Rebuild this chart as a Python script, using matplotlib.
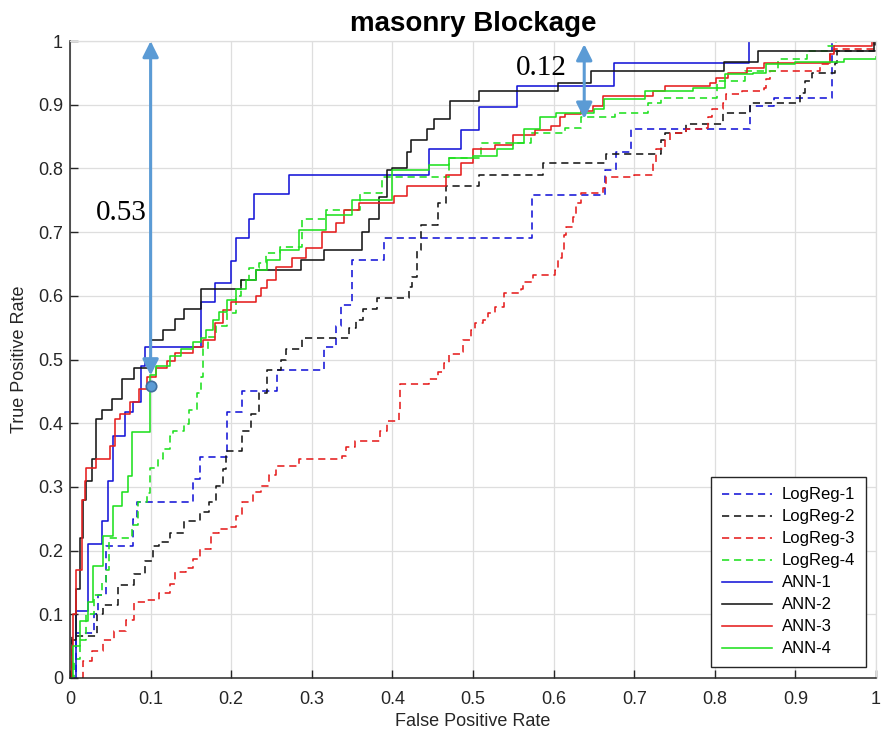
import matplotlib
matplotlib.use("Agg")
import matplotlib.pyplot as plt

plt.rcParams['font.family'] = ['Liberation Sans', 'DejaVu Sans']

# ROC curves (step vertices: at each fpr the curve rises to the given tpr)
logreg1_fpr = [0, 0.007, 0.030, 0.035, 0.045, 0.078, 0.083, 0.152, 0.161, 0.195, 0.214, 0.257, 0.315,
               0.330, 0.336, 0.350, 0.390, 0.573, 0.664, 0.678, 0.696, 0.844, 0.873, 0.946, 1.0]
logreg1_tpr = [0, 0.070, 0.100, 0.130, 0.208, 0.250, 0.277, 0.3125, 0.347, 0.417, 0.450, 0.484, 0.520,
               0.552, 0.586, 0.656, 0.690, 0.758, 0.797, 0.825, 0.862, 0.898, 0.910, 1.0, 1.0]

logreg2_fpr = [0, 0.003, 0.033, 0.041, 0.059, 0.080, 0.093, 0.103, 0.111, 0.124, 0.142, 0.161, 0.173,
               0.181, 0.190, 0.194, 0.213, 0.225, 0.235, 0.245, 0.262, 0.268, 0.288, 0.346, 0.355,
               0.363, 0.381, 0.420, 0.424, 0.430, 0.435, 0.457, 0.467, 0.507, 0.587, 0.665, 0.733,
               0.738, 0.764, 0.810, 0.844, 0.906, 0.912, 0.920, 0.949, 0.951, 0.999, 1.0]
logreg2_tpr = [0, 0.066, 0.100, 0.115, 0.146, 0.164, 0.183, 0.208, 0.214, 0.227, 0.247, 0.260, 0.277,
               0.302, 0.328, 0.356, 0.388, 0.414, 0.448, 0.484, 0.500, 0.516, 0.534, 0.550, 0.5625,
               0.580, 0.597, 0.614, 0.630, 0.672, 0.711, 0.745, 0.773, 0.789, 0.808, 0.823, 0.844,
               0.855, 0.870, 0.8875, 0.903, 0.919, 0.9375, 0.950, 0.966, 0.984, 1.0, 1.0]

logreg3_fpr = [0, 0.0165, 0.027, 0.041, 0.054, 0.070, 0.080, 0.095, 0.111, 0.124, 0.130, 0.144, 0.152,
               0.161, 0.175, 0.185, 0.198, 0.206, 0.214, 0.227, 0.237, 0.247, 0.256, 0.284, 0.338,
               0.342, 0.354, 0.385, 0.393, 0.408, 0.410, 0.445, 0.457, 0.464, 0.470, 0.484, 0.488,
               0.498, 0.502, 0.513, 0.519, 0.527, 0.538, 0.559, 0.562, 0.575, 0.602, 0.606, 0.610,
               0.613, 0.616, 0.624, 0.628, 0.634, 0.661, 0.665, 0.700, 0.723, 0.727, 0.738, 0.744,
               0.764, 0.787, 0.791, 0.797, 0.810, 0.814, 0.834, 0.861, 0.863, 0.869, 0.931, 0.943,
               0.948, 0.997, 1.0]
logreg3_tpr = [0, 0.027, 0.042, 0.060, 0.074, 0.091, 0.120, 0.122, 0.133, 0.148, 0.167, 0.172, 0.1875,
               0.203, 0.227, 0.234, 0.237, 0.255, 0.276, 0.292, 0.302, 0.318, 0.333, 0.344, 0.349,
               0.3625, 0.372, 0.388, 0.404, 0.417, 0.461, 0.469, 0.480, 0.495, 0.508, 0.511, 0.531,
               0.547, 0.558, 0.5625, 0.573, 0.583, 0.605, 0.610, 0.622, 0.633, 0.641, 0.659, 0.672,
               0.695, 0.708, 0.723, 0.745, 0.761, 0.769, 0.786, 0.789, 0.808, 0.831, 0.844, 0.855,
               0.862, 0.864, 0.880, 0.894, 0.903, 0.917, 0.922, 0.927, 0.940, 0.953, 0.964, 0.980,
               0.988, 1.0, 1.0]

logreg4_fpr = [0, 0.005, 0.012, 0.020, 0.030, 0.040, 0.045, 0.048, 0.077, 0.084, 0.095, 0.099, 0.109,
               0.115, 0.124, 0.128, 0.142, 0.148, 0.157, 0.163, 0.165, 0.171, 0.181, 0.195, 0.206,
               0.212, 0.222, 0.235, 0.243, 0.260, 0.288, 0.318, 0.360, 0.387, 0.470, 0.510, 0.572,
               0.614, 0.634, 0.676, 0.717, 0.733, 0.803, 0.837, 0.878, 0.915, 0.940, 0.950, 1.0]
logreg4_tpr = [0, 0.030, 0.060, 0.100, 0.130, 0.150, 0.170, 0.220, 0.240, 0.277, 0.290, 0.330, 0.344,
               0.360, 0.380, 0.388, 0.398, 0.420, 0.448, 0.473, 0.516, 0.536, 0.552, 0.573, 0.600,
               0.625, 0.644, 0.652, 0.667, 0.677, 0.720, 0.734, 0.761, 0.786, 0.817, 0.840, 0.855,
               0.864, 0.880, 0.8875, 0.903, 0.911, 0.9375, 0.953, 0.972, 0.984, 0.992, 1.0, 1.0]

ann1_fpr = [0, 0.008, 0.022, 0.040, 0.047, 0.053, 0.068, 0.078, 0.088, 0.093, 0.163, 0.180, 0.200,
            0.206, 0.222, 0.228, 0.272, 0.445, 0.485, 0.508, 0.554, 0.675, 0.843, 1.0]
ann1_tpr = [0, 0.105, 0.210, 0.247, 0.310, 0.380, 0.417, 0.433, 0.490, 0.520, 0.590, 0.620, 0.655,
            0.690, 0.720, 0.760, 0.790, 0.830, 0.860, 0.897, 0.930, 0.965, 1.0, 1.0]

ann2_fpr = [0, 0.003, 0.008, 0.012, 0.016, 0.020, 0.027, 0.032, 0.040, 0.052, 0.064, 0.080, 0.100,
            0.115, 0.130, 0.142, 0.163, 0.212, 0.231, 0.287, 0.315, 0.362, 0.371, 0.383, 0.393,
            0.400, 0.418, 0.423, 0.443, 0.451, 0.472, 0.507, 0.606, 0.647, 0.812, 0.853, 0.998, 1.0]
ann2_tpr = [0, 0.060, 0.140, 0.220, 0.280, 0.310, 0.344, 0.406, 0.420, 0.4375, 0.470, 0.486, 0.530,
            0.547, 0.564, 0.580, 0.610, 0.625, 0.640, 0.656, 0.672, 0.700, 0.720, 0.755, 0.797,
            0.800, 0.825, 0.844, 0.862, 0.877, 0.906, 0.922, 0.934, 0.953, 0.967, 0.984, 1.0, 1.0]

ann3_fpr = [0, 0.002, 0.004, 0.008, 0.015, 0.019, 0.020, 0.032, 0.050, 0.056, 0.062, 0.074, 0.086,
            0.095, 0.107, 0.120, 0.130, 0.152, 0.165, 0.180, 0.190, 0.200, 0.231, 0.237, 0.245,
            0.256, 0.276, 0.293, 0.313, 0.330, 0.340, 0.358, 0.402, 0.418, 0.466, 0.485, 0.500,
            0.527, 0.550, 0.577, 0.597, 0.608, 0.614, 0.634, 0.649, 0.661, 0.723, 0.738, 0.794,
            0.801, 0.816, 0.840, 0.861, 0.943, 0.948, 0.995, 1.0]
ann3_tpr = [0, 0.050, 0.100, 0.170, 0.280, 0.310, 0.330, 0.344, 0.364, 0.406, 0.414, 0.433, 0.453,
            0.473, 0.487, 0.497, 0.510, 0.520, 0.530, 0.558, 0.578, 0.590, 0.600, 0.612, 0.625,
            0.645, 0.660, 0.675, 0.700, 0.714, 0.734, 0.745, 0.757, 0.773, 0.789, 0.808, 0.830,
            0.836, 0.852, 0.860, 0.867, 0.880, 0.886, 0.890, 0.898, 0.914, 0.922, 0.930, 0.934,
            0.942, 0.950, 0.958, 0.966, 0.980, 0.992, 1.0, 1.0]

ann4_fpr = [0, 0.004, 0.012, 0.022, 0.028, 0.041, 0.053, 0.064, 0.072, 0.077, 0.099, 0.107, 0.124,
            0.138, 0.152, 0.163, 0.169, 0.177, 0.185, 0.195, 0.206, 0.218, 0.231, 0.245, 0.260,
            0.284, 0.318, 0.350, 0.400, 0.445, 0.470, 0.500, 0.530, 0.550, 0.563, 0.583, 0.603,
            0.650, 0.663, 0.713, 0.773, 0.813, 0.847, 0.863, 0.900, 0.960, 1.0]
ann4_tpr = [0, 0.050, 0.090, 0.120, 0.176, 0.223, 0.270, 0.292, 0.317, 0.386, 0.475, 0.490, 0.505,
            0.516, 0.527, 0.534, 0.547, 0.562, 0.575, 0.594, 0.610, 0.625, 0.640, 0.656, 0.672,
            0.703, 0.727, 0.750, 0.797, 0.805, 0.816, 0.820, 0.830, 0.840, 0.862, 0.880, 0.8875,
            0.894, 0.909, 0.922, 0.927, 0.948, 0.950, 0.964, 0.967, 0.972, 0.975]

labels = ['LogReg-1', 'LogReg-2', 'LogReg-3', 'LogReg-4', 'ANN-1', 'ANN-2', 'ANN-3', 'ANN-4']
tick_vals = [0, 0.1, 0.2, 0.3, 0.4, 0.5, 0.6, 0.7, 0.8, 0.9, 1]
tick_text = ['0', '0.1', '0.2', '0.3', '0.4', '0.5', '0.6', '0.7', '0.8', '0.9', '1']

# annotated gaps between curves
gap1_x, gap1_lo, gap1_hi, gap1_label = 0.1, 0.459, 1.0, '0.53'
gap2_x, gap2_lo, gap2_hi, gap2_label = 0.638, 0.878, 0.995, '0.12'

BLUE, BLACK, RED, GREEN = '#1515d8', '#161616', '#e51e1e', '#1fe01f'
ARROW = '#5b9bd5'

fig = plt.figure(figsize=(8.82, 7.36), dpi=100)
ax = fig.add_axes([70 / 882, 1 - 678 / 736, 806 / 882, 637 / 736])

curves = [
    (logreg1_fpr, logreg1_tpr, BLUE, '--'),
    (logreg2_fpr, logreg2_tpr, BLACK, '--'),
    (logreg3_fpr, logreg3_tpr, RED, '--'),
    (logreg4_fpr, logreg4_tpr, GREEN, '--'),
    (ann1_fpr, ann1_tpr, BLUE, '-'),
    (ann2_fpr, ann2_tpr, BLACK, '-'),
    (ann3_fpr, ann3_tpr, RED, '-'),
    (ann4_fpr, ann4_tpr, GREEN, '-'),
]
for (fx, ty, col, ls), lab in zip(curves, labels):
    line, = ax.plot(fx, ty, color=col, linestyle=ls, lw=1.15, drawstyle='steps-post', label=lab)
    if ls == '--':
        line.set_dashes((4.5, 3.0))

ax.set_xlim(0, 1)
ax.set_ylim(0, 1)
ax.set_xticks(tick_vals)
ax.set_xticklabels(tick_text)
ax.set_yticks(tick_vals)
ax.set_yticklabels(tick_text)
ax.grid(True, color='#dedede', lw=0.9)
ax.set_axisbelow(True)
ax.tick_params(direction='in', length=6, width=1.0, colors='#262626', labelsize=13)
ax.tick_params(axis='x', pad=9)
ax.tick_params(axis='y', pad=5)
for s in ('left', 'bottom'):
    ax.spines[s].set_color('#262626')
    ax.spines[s].set_linewidth(1.1)
for s in ('top', 'right'):
    ax.spines[s].set_color('#dedede')
    ax.spines[s].set_linewidth(0.9)

ax.set_xlabel('False Positive Rate', fontsize=13, color='#262626', labelpad=4)
ax.set_ylabel('True Positive Rate', fontsize=13, color='#262626', labelpad=7)
ax.set_title('masonry Blockage', fontsize=20, fontweight='bold', pad=7)

# gap annotations
ax.annotate('', xy=(gap1_x, gap1_hi), xytext=(gap1_x, gap1_lo + 0.016),
            arrowprops=dict(arrowstyle='<|-|>', color=ARROW, lw=2.2, mutation_scale=24,
                            shrinkA=0, shrinkB=0), annotation_clip=False)
ax.plot([gap1_x], [gap1_lo], 'o', ms=7.5, mfc=ARROW, mec='#3f6f9f', mew=1.2, clip_on=False)
ax.text(0.064, 0.73, gap1_label, fontsize=21, family=['Liberation Serif'], ha='center', va='center')

ax.annotate('', xy=(gap2_x, gap2_hi), xytext=(gap2_x, gap2_lo),
            arrowprops=dict(arrowstyle='<|-|>', color=ARROW, lw=2.2, mutation_scale=24,
                            shrinkA=0, shrinkB=0), annotation_clip=False)
ax.text(0.585, 0.958, gap2_label, fontsize=21, family=['Liberation Serif'], ha='center', va='center')

leg = ax.legend(loc='lower right', bbox_to_anchor=(0.988, 0.017), borderaxespad=0,
                fontsize=12, handlelength=3.0, handletextpad=0.6, labelspacing=0.42,
                fancybox=False, framealpha=1, edgecolor='#262626', borderpad=0.65)
leg.get_frame().set_linewidth(1.0)

fig.savefig('out.png', dpi=100)
